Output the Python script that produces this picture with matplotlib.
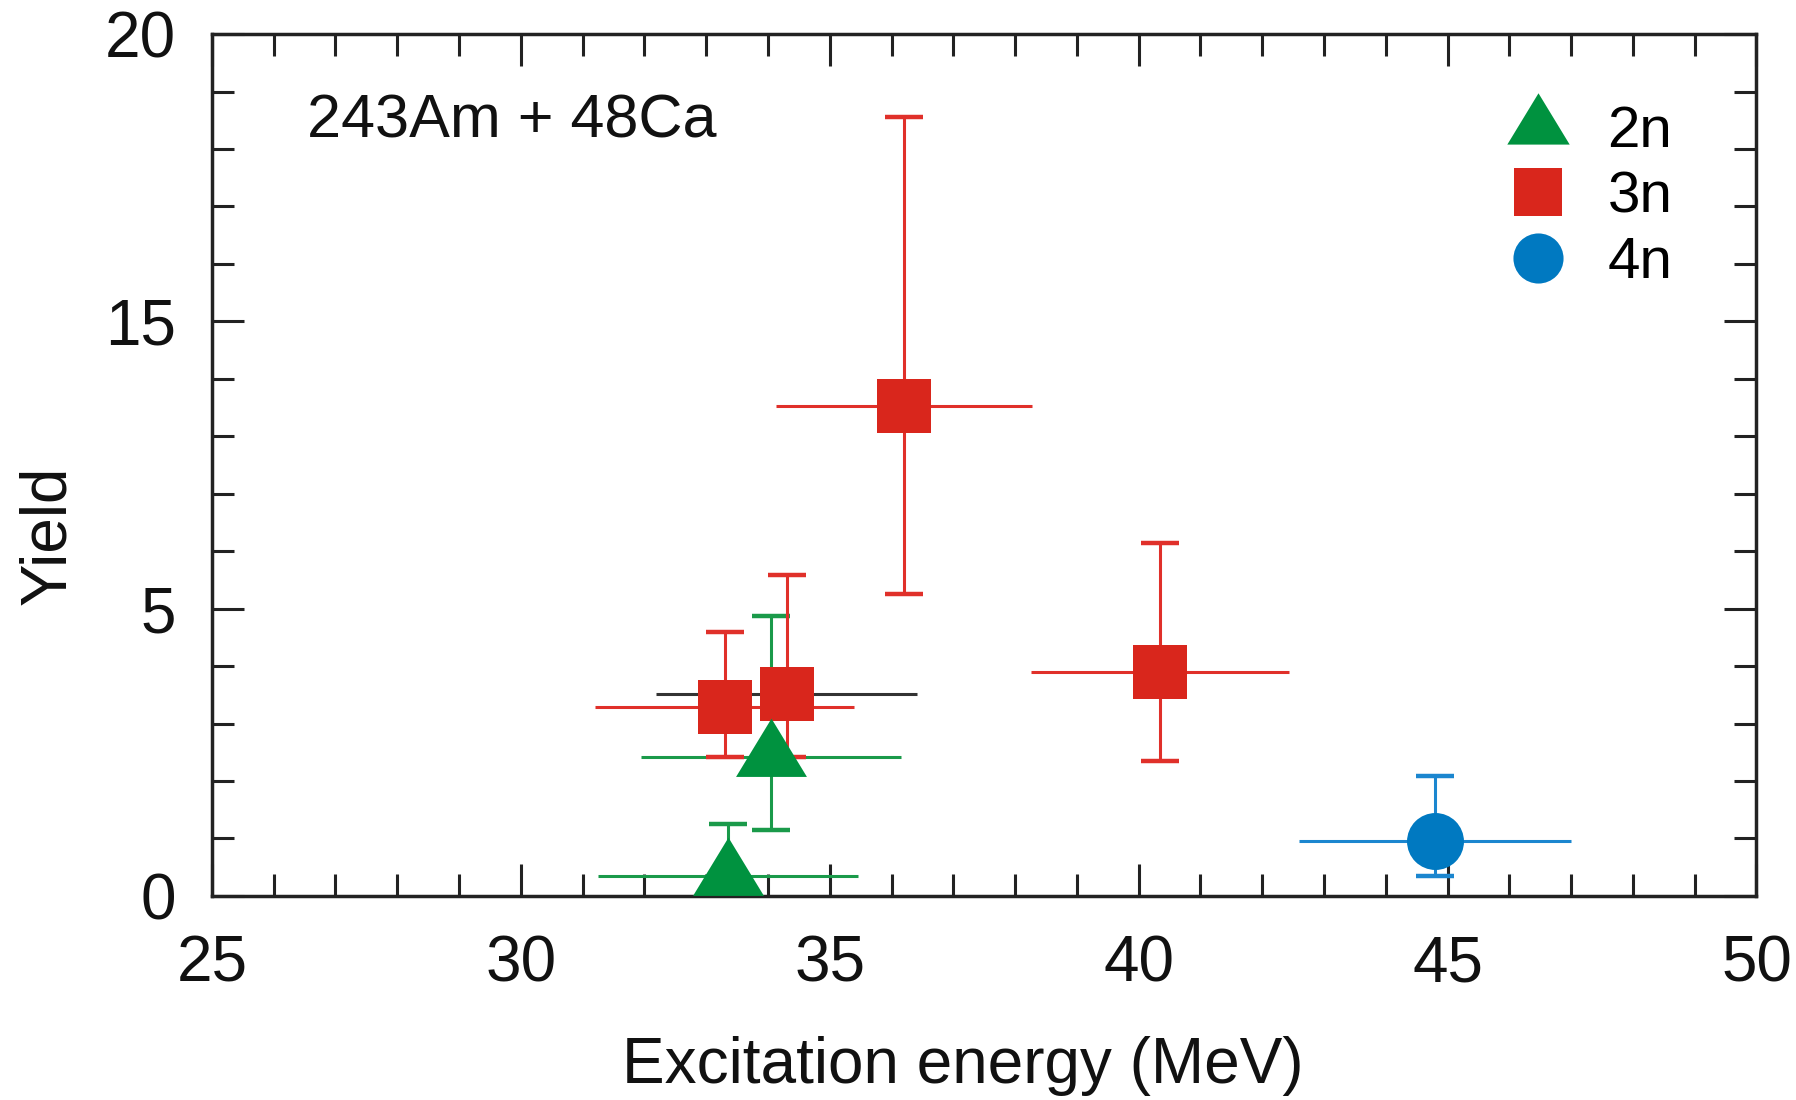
import numpy as np
import matplotlib
matplotlib.use('Agg')
import matplotlib.pyplot as plt

plt.rcParams['font.family'] = ['Liberation Sans', 'DejaVu Sans']

# data (yield read against the printed axis labels 0, 5, 15, 20)
x_2n = [33.35, 34.05]
xerr_2n = [2.1, 2.1]
y_2n = [0.34, 2.41]
ylo_2n = [0.92, 1.27]
yhi_2n = [0.92, 2.46]

x_3n = [33.3, 34.3, 36.2, 40.35]
xerr_3n = [2.1, 2.12, 2.07, 2.09]
y_3n = [3.29, 3.51, 12.04, 3.89]
ylo_3n = [0.88, 1.10, 6.54, 1.54]
yhi_3n = [1.30, 2.66, 6.52, 3.40]
xbar_col_3n = ['#e0302a', '#333333', '#e0302a', '#e0302a']

x_4n = [44.8]
xerr_4n = [2.2]
y_4n = [0.96]
ylo_4n = [0.62]
yhi_4n = [1.13]

GREEN = '#00923f'
RED = '#d9261c'
BLUE = '#0079c1'

ytick_vals = [0, 5, 15, 20]
ytick_minor = [1, 2, 3, 4, 7, 9, 11, 13, 16, 17, 18, 19]

FS = 46


# the printed y axis is evenly spaced at 0, 5, 15, 20
def fwd(y):
    y = np.asarray(y, dtype=float)
    return np.where(y < 5, y, np.where(y < 15, 5 + (y - 5) / 2.0, y - 5))


def inv(u):
    u = np.asarray(u, dtype=float)
    return np.where(u < 5, u, np.where(u < 10, 5 + 2.0 * (u - 5), u + 5))


fig = plt.figure(figsize=(17.96, 11), dpi=100)
ax = fig.add_axes([0.118, 0.1855, 0.86, 0.7835])
ax.set_yscale('function', functions=(fwd, inv))

tri = [(-1, -0.548), (1, -0.548), (0, 1.097)]

# horizontal bars, no caps
ax.errorbar(x_2n, y_2n, xerr=xerr_2n, fmt='none', ecolor='#1a9a4a', elinewidth=2.2, capsize=0, zorder=2)
for xi, yi, xe, c in zip(x_3n, y_3n, xerr_3n, xbar_col_3n):
    ax.errorbar([xi], [yi], xerr=[xe], fmt='none', ecolor=c, elinewidth=2.2, capsize=0, zorder=2)
ax.errorbar(x_4n, y_4n, xerr=xerr_4n, fmt='none', ecolor='#1b86cf', elinewidth=2.2, capsize=0, zorder=2)

# vertical bars with caps
ax.errorbar(x_2n, y_2n, yerr=[ylo_2n, yhi_2n], fmt='none', ecolor='#1a9a4a', elinewidth=2.2,
            capsize=14, capthick=3.2, zorder=2)
ax.errorbar(x_3n, y_3n, yerr=[ylo_3n, yhi_3n], fmt='none', ecolor='#e0302a', elinewidth=2.2,
            capsize=14, capthick=3.2, zorder=2)
ax.errorbar(x_4n, y_4n, yerr=[ylo_4n, yhi_4n], fmt='none', ecolor='#1b86cf', elinewidth=2.2,
            capsize=14, capthick=3.2, zorder=2)

# markers
ax.plot(x_3n, y_3n, 's', color=RED, ms=38.5, mew=0, label='3n', zorder=3)
ax.plot(x_4n, y_4n, 'o', color=BLUE, ms=41, mew=0, label='4n', zorder=3)
ax.plot(x_2n, y_2n, marker=tri, ls='none', color=GREEN, ms=56, mew=0, label='2n', zorder=4)

ax.set_xlim(25, 50)
ax.set_ylim(0, 20)
ax.set_xticks(range(25, 51, 5))
ax.set_xticks(range(25, 51), minor=True)
ax.set_yticks(ytick_vals)
ax.set_yticklabels([str(v) for v in ytick_vals])
ax.set_yticks(ytick_minor, minor=True)

ax.tick_params(which='both', direction='in', top=True, right=True, width=2.2, color='#222222',
               labelsize=FS, labelcolor='#111111')
ax.tick_params(which='major', length=23)
ax.tick_params(which='minor', length=16)
ax.tick_params(axis='x', pad=28)
ax.tick_params(axis='y', pad=26)
for s in ax.spines.values():
    s.set_linewidth(2.5)
    s.set_color('#222222')

ax.set_xlabel('Excitation energy (MeV)', fontsize=FS, color='#111111')
ax.xaxis.set_label_coords(0.486, -0.197)
ax.xaxis.label.set_va('center')
ax.set_ylabel('Yield', fontsize=FS, color='#111111')
ax.yaxis.set_label_coords(-0.106, 0.419)
ax.yaxis.label.set_va('center')

ax.text(0.0616, 0.898, '243Am + 48Ca', transform=ax.transAxes, fontsize=FS - 2,
        va='center', ha='left', color='#111111')

h, l = ax.get_legend_handles_labels()
order = [2, 0, 1]
ax.legend([h[i] for i in order], [l[i] for i in order], loc='upper right',
          bbox_to_anchor=(0.972, 0.965), frameon=False, fontsize=FS - 4, markerscale=0.88,
          handlelength=1.2, handletextpad=0.6, labelspacing=0.2, borderpad=0.2)

fig.savefig('out.png', dpi=100)
